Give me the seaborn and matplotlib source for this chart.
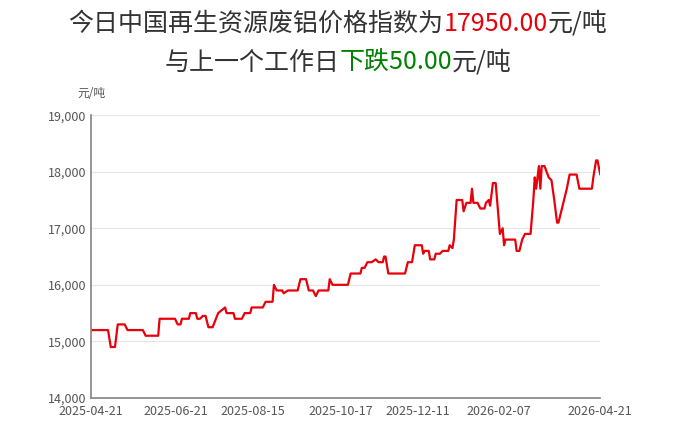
import matplotlib
matplotlib.use("Agg")
import matplotlib.pyplot as plt
import seaborn as sns
import pandas as pd
from matplotlib import offsetbox

sns.set_theme(style="white")
plt.rcParams['font.family'] = ['Noto Sans CJK SC', 'DejaVu Sans']

start = pd.Timestamp("2025-04-21")
day_offsets = [0,12,14,17,19,24,26,37,39,48,49,60,62,64,65,70,71,75,76,78,80,82,84,87,91,96,97,102,103,108,110,114,115,123,125,130,131,133,137,138,141,148,150,154,156,159,161,163,170,171,173,184,186,193,194,196,198,201,204,206,209,210,211,213,225,227,230,232,237,238,239,242,243,246,247,250,252,256,257,259,260,262,266,267,269,272,273,274,277,279,282,283,285,286,288,290,291,293,295,296,297,304,305,307,309,311,315,317,318,319,321,322,323,325,328,330,332,334,335,337,338,341,343,348,350,359,360,362,363,365]
prices = [15200,15200,14900,14900,15300,15300,15200,15200,15100,15100,15400,15400,15300,15300,15400,15400,15500,15500,15400,15400,15450,15450,15250,15250,15500,15600,15500,15500,15400,15400,15500,15500,15600,15600,15700,15700,16000,15900,15900,15850,15900,15900,16100,16100,15900,15900,15800,15900,15900,16100,16000,16000,16200,16200,16300,16300,16400,16400,16450,16400,16400,16500,16500,16200,16200,16400,16400,16700,16700,16550,16600,16600,16450,16450,16550,16550,16600,16600,16700,16650,16800,17500,17500,17300,17450,17450,17700,17450,17450,17350,17350,17450,17500,17400,17800,17800,17500,16900,17000,16700,16800,16800,16600,16600,16800,16900,16900,17500,17900,17700,18100,17700,18100,18100,17900,17850,17500,17100,17100,17300,17400,17700,17950,17950,17700,17700,17900,18200,18200,17950]
df = pd.DataFrame({"date": start + pd.to_timedelta(day_offsets, unit="D"), "price": prices})

tick_labels = ["2025-04-21","2025-06-21","2025-08-15","2025-10-17","2025-12-11","2026-02-07","2026-04-21"]
y_ticks = [14000,15000,16000,17000,18000,19000]

fig = plt.figure(figsize=(6.76,4.33), dpi=100)
ax = fig.add_axes([0.135,0.081,0.753,0.653])
sns.lineplot(data=df, x="date", y="price", color="#e8000b", lw=1.6, ax=ax)
ax.set_xlim(start, start + pd.Timedelta(days=365))
ax.set_ylim(14000,19000)
ax.set_yticks(y_ticks)
ax.set_yticklabels([f"{v:,}" for v in y_ticks])
ax.set_xticks(pd.to_datetime(tick_labels))
ax.set_xticklabels(tick_labels)
ax.tick_params(labelsize=9, colors="#555555", length=0)
ax.tick_params(axis="x", pad=5)
ax.grid(axis="y", color="#e6e6e6", lw=0.8)
for s in ["top","right"]:
    ax.spines[s].set_visible(False)
ax.spines["left"].set_color("#888888")
ax.spines["bottom"].set_color("#888888")
ax.set_xlabel(""); ax.set_ylabel("")
fig.text(0.115, 0.775, "元/吨", fontsize=8.5, color="#555555")

def line(parts, y):
    boxes = [offsetbox.TextArea(t, textprops=dict(color=c, fontsize=18, family=['Noto Sans CJK SC','DejaVu Sans'])) for t, c in parts]
    pack = offsetbox.HPacker(children=boxes, pad=0, sep=0, align="baseline")
    ab = offsetbox.AnchoredOffsetbox(loc="center", child=pack, bbox_to_anchor=(0.5, y), bbox_transform=fig.transFigure, frameon=False, pad=0, borderpad=0)
    fig.add_artist(ab)
line([("今日中国再生资源废铝价格指数为","#333333"),("17950.00","#e8000b"),("元/吨","#333333")], 0.945)
line([("与上一个工作日","#333333"),("下跌50.00","#008000"),("元/吨","#333333")], 0.855)
fig.savefig("out.png", dpi=100)
